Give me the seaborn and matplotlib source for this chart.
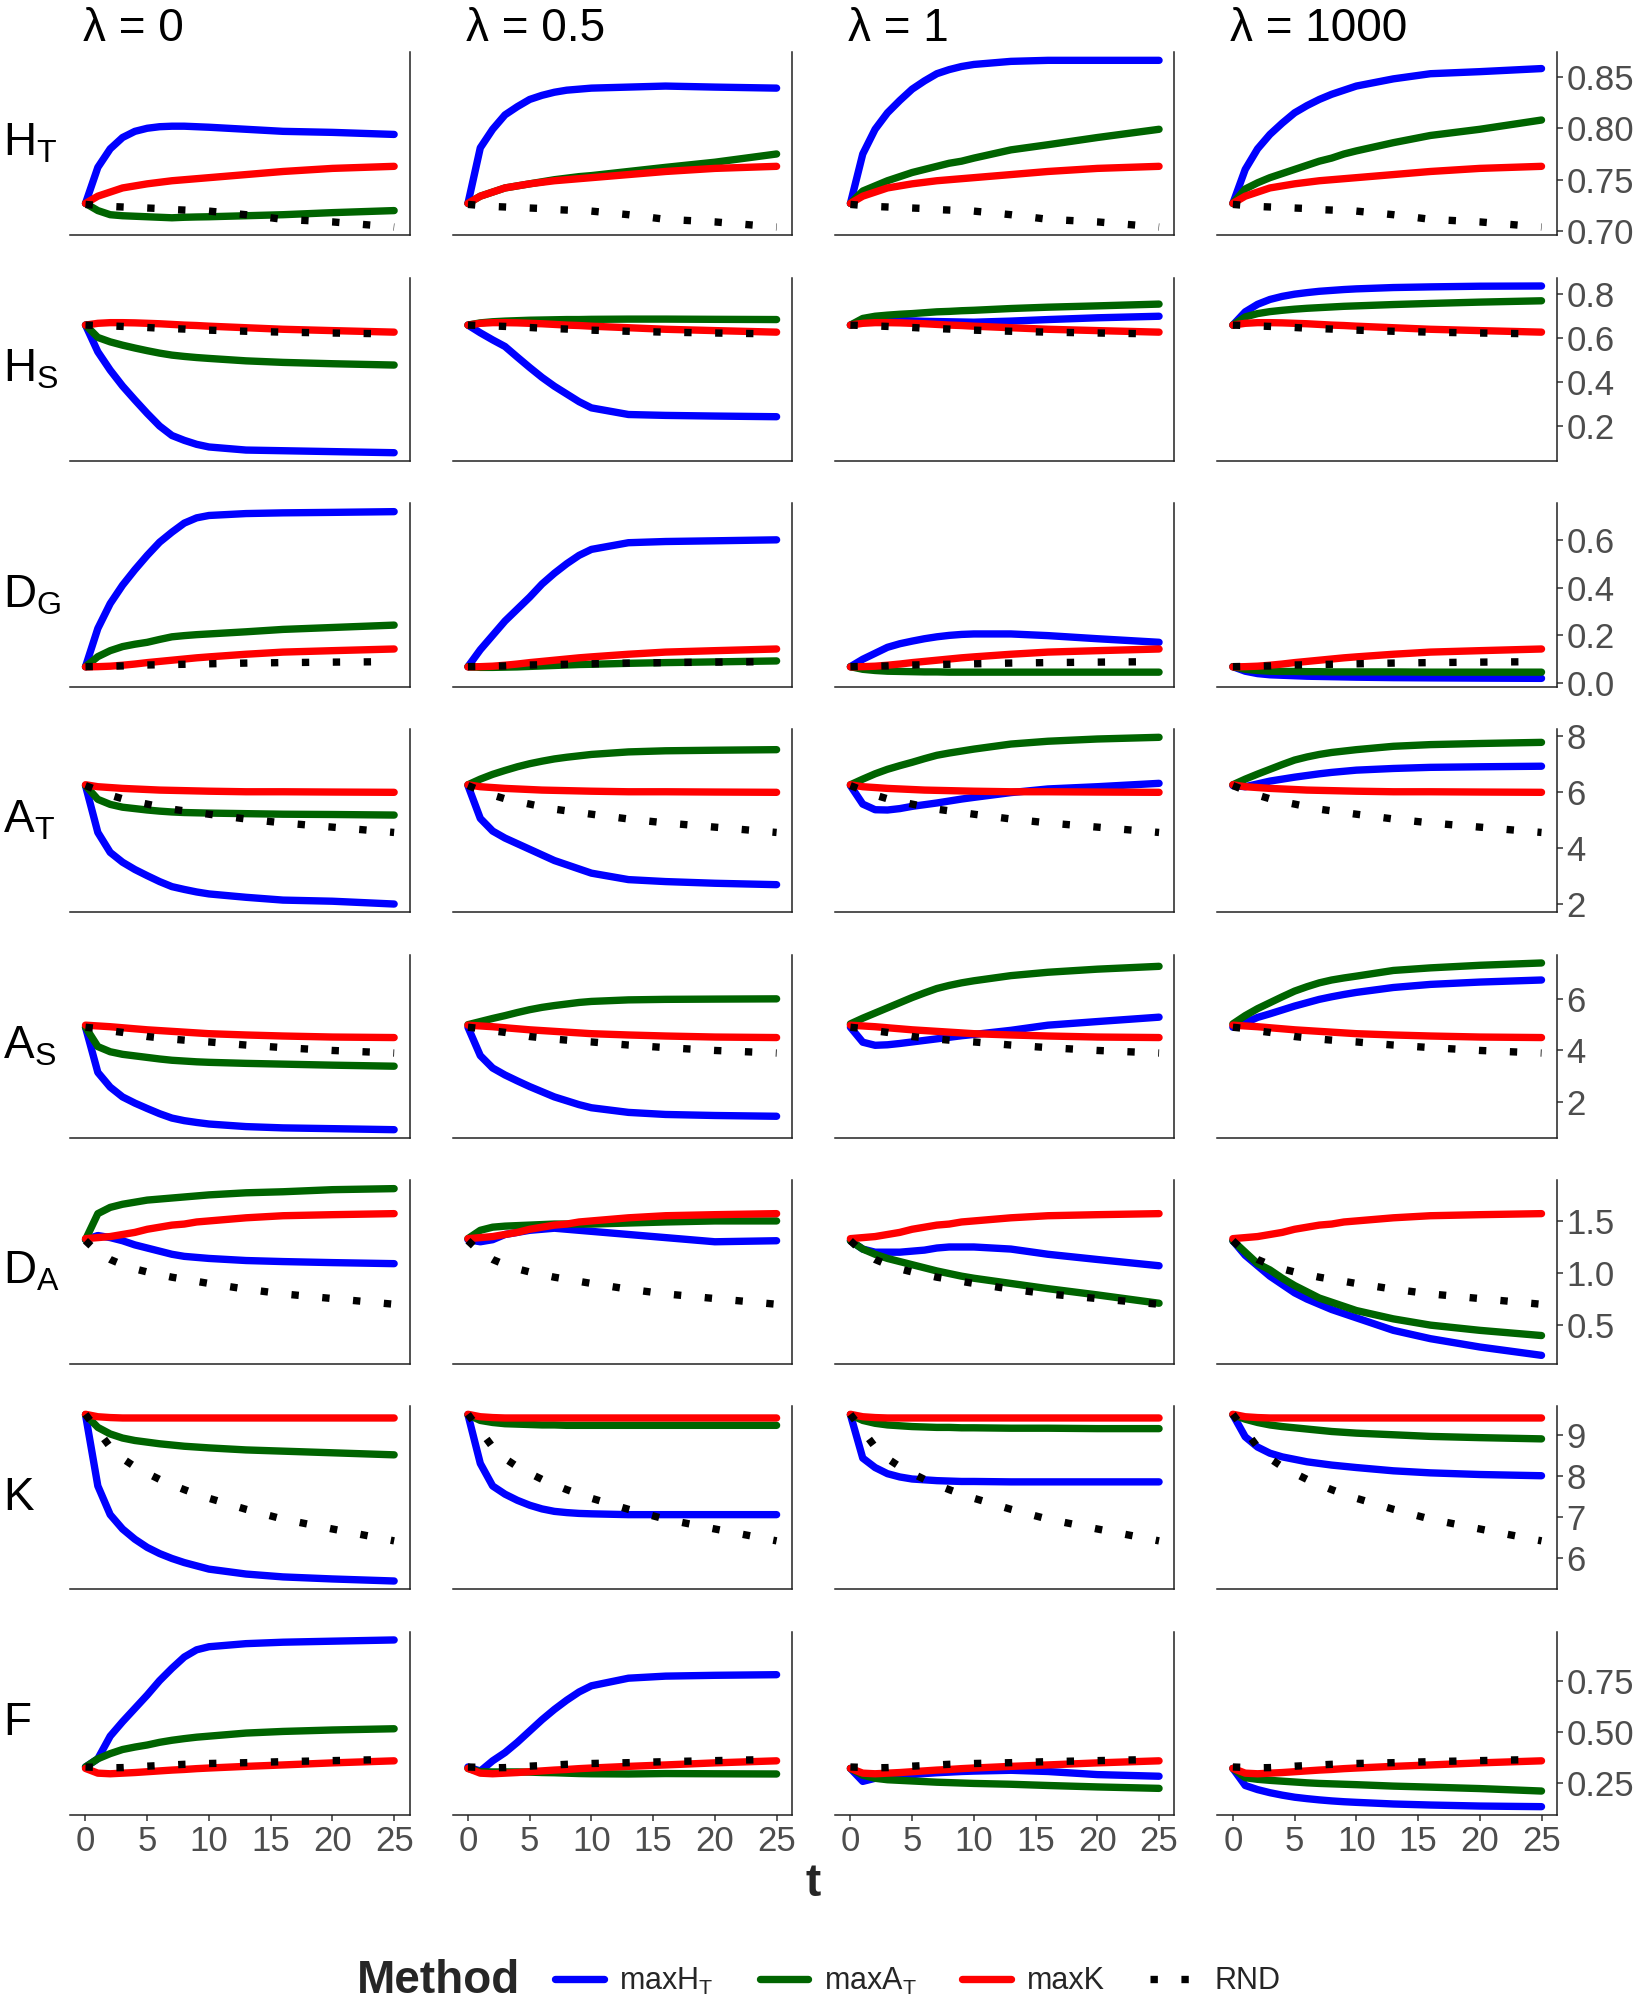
import numpy as np
import pandas as pd
import matplotlib
matplotlib.use("Agg")
import matplotlib.pyplot as plt
import seaborn as sns
from matplotlib.lines import Line2D
from matplotlib import font_manager

# ---------------- data ----------------
T = [0, 1, 2, 3, 4, 5, 6, 7, 8, 9, 10, 13, 16, 20, 25]
LAMBDAS = ["0", "0.5", "1", "1000"]
METHODS = ["maxHT", "maxAT", "maxK", "RND"]
METRICS = ["HT", "HS", "DG", "AT", "AS", "DA", "K", "F"]
ROW_LABELS = ["H$_{\\mathrm{T}}$", "H$_{\\mathrm{S}}$", "D$_{\\mathrm{G}}$", "A$_{\\mathrm{T}}$",
              "A$_{\\mathrm{S}}$", "D$_{\\mathrm{A}}$", "K", "F"]
COL_TITLES = ["λ = 0", "λ = 0.5", "λ = 1", "λ = 1000"]
LEGEND_LABELS = ["maxH$_{\\mathrm{T}}$", "maxA$_{\\mathrm{T}}$", "maxK", "RND"]
X_TICKS = [0, 5, 10, 15, 20, 25]
Y_TICKS = [[0.70, 0.75, 0.80, 0.85], [0.2, 0.4, 0.6, 0.8], [0.0, 0.2, 0.4, 0.6], [2, 4, 6, 8],
           [2, 4, 6], [0.5, 1.0, 1.5], [6, 7, 8, 9], [0.25, 0.50, 0.75]]
Y_TICKLABELS = [["0.70", "0.75", "0.80", "0.85"], ["0.2", "0.4", "0.6", "0.8"],
                ["0.0", "0.2", "0.4", "0.6"], ["2", "4", "6", "8"], ["2", "4", "6"],
                ["0.5", "1.0", "1.5"], ["6", "7", "8", "9"], ["0.25", "0.50", "0.75"]]

# H_T
HT_maxHT = [[0.727, 0.762, 0.780, 0.791, 0.797, 0.800, 0.8015, 0.802, 0.802, 0.8015, 0.801, 0.799, 0.797, 0.796, 0.794],
            [0.727, 0.781, 0.799, 0.813, 0.821, 0.828, 0.832, 0.835, 0.837, 0.838, 0.839, 0.840, 0.841, 0.840, 0.839],
            [0.727, 0.775, 0.799, 0.815, 0.827, 0.838, 0.846, 0.853, 0.857, 0.860, 0.862, 0.865, 0.866, 0.866, 0.866],
            [0.727, 0.760, 0.780, 0.794, 0.805, 0.815, 0.822, 0.828, 0.833, 0.837, 0.841, 0.848, 0.853, 0.855, 0.858]]
HT_maxAT = [[0.727, 0.720, 0.716, 0.715, 0.7145, 0.714, 0.7135, 0.713, 0.7135, 0.7138, 0.714, 0.715, 0.716, 0.718, 0.720],
            [0.727, 0.734, 0.738, 0.742, 0.744, 0.746, 0.748, 0.750, 0.7515, 0.753, 0.754, 0.758, 0.762, 0.767, 0.775],
            [0.727, 0.739, 0.744, 0.749, 0.753, 0.757, 0.760, 0.763, 0.766, 0.768, 0.771, 0.779, 0.784, 0.791, 0.799],
            [0.727, 0.741, 0.747, 0.752, 0.756, 0.760, 0.764, 0.768, 0.771, 0.775, 0.778, 0.786, 0.793, 0.799, 0.808]]
HT_maxK = [0.727, 0.734, 0.738, 0.742, 0.744, 0.746, 0.7475, 0.749, 0.750, 0.751, 0.752, 0.755, 0.758, 0.761, 0.763]
HT_RND = [0.726, 0.725, 0.724, 0.7235, 0.723, 0.7225, 0.722, 0.721, 0.7205, 0.720, 0.7195, 0.716, 0.7115, 0.709, 0.704]

# H_S
HS_maxHT = [[0.657, 0.536, 0.453, 0.381, 0.318, 0.257, 0.200, 0.157, 0.135, 0.117, 0.105, 0.091, 0.088, 0.084, 0.079],
            [0.657, 0.622, 0.590, 0.560, 0.512, 0.465, 0.420, 0.380, 0.345, 0.310, 0.282, 0.252, 0.248, 0.245, 0.242],
            [0.657, 0.676, 0.679, 0.679, 0.678, 0.676, 0.674, 0.673, 0.672, 0.671, 0.670, 0.675, 0.682, 0.690, 0.697],
            [0.657, 0.717, 0.751, 0.773, 0.787, 0.797, 0.804, 0.810, 0.814, 0.818, 0.821, 0.827, 0.830, 0.833, 0.834]]
HS_maxAT = [[0.657, 0.601, 0.581, 0.566, 0.553, 0.541, 0.530, 0.521, 0.515, 0.510, 0.506, 0.495, 0.488, 0.482, 0.476],
            [0.657, 0.667, 0.672, 0.675, 0.677, 0.679, 0.680, 0.681, 0.682, 0.682, 0.683, 0.684, 0.684, 0.683, 0.682],
            [0.657, 0.687, 0.697, 0.702, 0.706, 0.709, 0.713, 0.717, 0.719, 0.722, 0.724, 0.732, 0.738, 0.744, 0.752],
            [0.657, 0.694, 0.709, 0.718, 0.724, 0.729, 0.733, 0.736, 0.739, 0.742, 0.744, 0.750, 0.755, 0.761, 0.767]]
HS_maxK = [0.657, 0.665, 0.668, 0.668, 0.667, 0.665, 0.663, 0.660, 0.657, 0.655, 0.652, 0.645, 0.638, 0.632, 0.625]
HS_RND = [0.657, 0.655, 0.653, 0.651, 0.648, 0.646, 0.643, 0.641, 0.639, 0.636, 0.634, 0.629, 0.625, 0.621, 0.617]

# D_G
DG_maxHT = [[0.069, 0.229, 0.333, 0.410, 0.475, 0.535, 0.590, 0.632, 0.670, 0.692, 0.702, 0.710, 0.713, 0.715, 0.718],
            [0.069, 0.140, 0.200, 0.260, 0.310, 0.360, 0.415, 0.460, 0.500, 0.535, 0.560, 0.588, 0.593, 0.596, 0.600],
            [0.069, 0.100, 0.125, 0.150, 0.165, 0.176, 0.186, 0.194, 0.200, 0.204, 0.206, 0.206, 0.199, 0.186, 0.171],
            [0.069, 0.050, 0.040, 0.035, 0.033, 0.031, 0.029, 0.028, 0.027, 0.026, 0.025, 0.023, 0.022, 0.021, 0.020]]
DG_maxAT = [[0.069, 0.111, 0.136, 0.153, 0.163, 0.171, 0.183, 0.194, 0.199, 0.203, 0.206, 0.215, 0.225, 0.233, 0.243],
            [0.069, 0.066, 0.066, 0.067, 0.068, 0.070, 0.072, 0.074, 0.076, 0.078, 0.079, 0.083, 0.086, 0.089, 0.093],
            [0.069, 0.058, 0.053, 0.050, 0.049, 0.048, 0.047, 0.047, 0.046, 0.046, 0.046, 0.046, 0.046, 0.046, 0.046],
            [0.069, 0.058, 0.053, 0.050, 0.049, 0.049, 0.048, 0.048, 0.047, 0.047, 0.047, 0.047, 0.046, 0.046, 0.046]]
DG_maxK = [0.068, 0.069, 0.071, 0.075, 0.080, 0.086, 0.091, 0.096, 0.101, 0.106, 0.110, 0.121, 0.130, 0.136, 0.143]
DG_RND = [0.069, 0.070, 0.071, 0.072, 0.074, 0.076, 0.077, 0.078, 0.079, 0.080, 0.081, 0.084, 0.086, 0.088, 0.090]

# A_T
AT_maxHT = [[6.22, 4.55, 3.84, 3.49, 3.23, 3.01, 2.80, 2.62, 2.52, 2.43, 2.36, 2.24, 2.14, 2.10, 2.00],
            [6.22, 5.05, 4.60, 4.35, 4.15, 3.95, 3.75, 3.55, 3.40, 3.25, 3.10, 2.87, 2.80, 2.74, 2.69],
            [6.22, 5.56, 5.36, 5.35, 5.40, 5.48, 5.54, 5.60, 5.67, 5.74, 5.80, 5.97, 6.10, 6.18, 6.30],
            [6.22, 6.18, 6.28, 6.38, 6.45, 6.52, 6.58, 6.64, 6.69, 6.73, 6.77, 6.83, 6.87, 6.89, 6.91]]
AT_maxAT = [[6.22, 5.73, 5.55, 5.45, 5.40, 5.35, 5.31, 5.28, 5.26, 5.25, 5.24, 5.22, 5.20, 5.19, 5.17],
            [6.25, 6.45, 6.62, 6.76, 6.89, 7.00, 7.09, 7.17, 7.23, 7.28, 7.33, 7.42, 7.46, 7.48, 7.50],
            [6.25, 6.45, 6.64, 6.80, 6.93, 7.05, 7.18, 7.30, 7.38, 7.45, 7.52, 7.70, 7.80, 7.88, 7.94],
            [6.25, 6.45, 6.63, 6.80, 6.97, 7.13, 7.24, 7.33, 7.40, 7.45, 7.50, 7.62, 7.68, 7.72, 7.76]]
AT_maxK = [6.25, 6.18, 6.15, 6.12, 6.10, 6.08, 6.06, 6.05, 6.04, 6.03, 6.02, 6.00, 6.00, 5.99, 5.98]
AT_RND = [6.22, 6.05, 5.88, 5.75, 5.65, 5.56, 5.47, 5.38, 5.32, 5.26, 5.20, 5.03, 4.89, 4.74, 4.55]

# A_S
AS_maxHT = [[4.90, 3.15, 2.58, 2.20, 1.96, 1.75, 1.55, 1.38, 1.28, 1.21, 1.15, 1.05, 1.00, 0.97, 0.93],
            [4.90, 3.80, 3.32, 3.05, 2.82, 2.60, 2.40, 2.20, 2.05, 1.90, 1.78, 1.60, 1.52, 1.48, 1.45],
            [4.90, 4.32, 4.20, 4.22, 4.27, 4.33, 4.39, 4.45, 4.51, 4.57, 4.62, 4.78, 4.98, 5.12, 5.29],
            [4.90, 5.07, 5.28, 5.42, 5.57, 5.72, 5.85, 5.98, 6.08, 6.17, 6.25, 6.44, 6.56, 6.65, 6.73]]
AS_maxAT = [[4.90, 4.15, 3.95, 3.85, 3.79, 3.73, 3.67, 3.62, 3.59, 3.56, 3.54, 3.50, 3.47, 3.43, 3.39],
            [5.00, 5.12, 5.24, 5.35, 5.47, 5.58, 5.67, 5.74, 5.80, 5.86, 5.90, 5.96, 5.98, 5.99, 6.00],
            [5.03, 5.25, 5.45, 5.65, 5.85, 6.05, 6.23, 6.40, 6.52, 6.62, 6.70, 6.90, 7.03, 7.15, 7.26],
            [5.03, 5.35, 5.62, 5.85, 6.08, 6.30, 6.47, 6.62, 6.73, 6.81, 6.88, 7.10, 7.20, 7.30, 7.39]]
AS_maxK = [4.98, 4.95, 4.92, 4.88, 4.84, 4.80, 4.77, 4.74, 4.71, 4.68, 4.65, 4.60, 4.56, 4.52, 4.50]
AS_RND = [4.90, 4.85, 4.76, 4.70, 4.62, 4.54, 4.49, 4.44, 4.40, 4.36, 4.33, 4.21, 4.11, 4.00, 3.90]

# D_A
DA_maxHT = [[1.32, 1.36, 1.34, 1.31, 1.27, 1.24, 1.21, 1.18, 1.16, 1.15, 1.14, 1.12, 1.11, 1.10, 1.09],
            [1.32, 1.30, 1.32, 1.37, 1.39, 1.41, 1.42, 1.43, 1.42, 1.41, 1.40, 1.37, 1.34, 1.30, 1.31],
            [1.31, 1.23, 1.20, 1.20, 1.20, 1.21, 1.22, 1.24, 1.25, 1.25, 1.25, 1.23, 1.18, 1.13, 1.07],
            [1.31, 1.17, 1.07, 0.97, 0.89, 0.81, 0.75, 0.70, 0.65, 0.61, 0.57, 0.45, 0.37, 0.29, 0.21]]
DA_maxAT = [[1.32, 1.57, 1.63, 1.66, 1.68, 1.70, 1.71, 1.72, 1.73, 1.74, 1.75, 1.77, 1.78, 1.80, 1.81],
            [1.33, 1.41, 1.44, 1.45, 1.455, 1.46, 1.465, 1.47, 1.47, 1.47, 1.47, 1.48, 1.49, 1.50, 1.50],
            [1.31, 1.23, 1.18, 1.14, 1.11, 1.08, 1.05, 1.02, 0.995, 0.97, 0.95, 0.90, 0.85, 0.79, 0.71],
            [1.31, 1.20, 1.09, 1.03, 0.95, 0.88, 0.82, 0.76, 0.72, 0.68, 0.64, 0.56, 0.50, 0.45, 0.40]]
DA_maxK = [1.33, 1.34, 1.35, 1.37, 1.39, 1.42, 1.44, 1.46, 1.47, 1.49, 1.50, 1.53, 1.55, 1.56, 1.57]
DA_RND = [1.31, 1.20, 1.13, 1.08, 1.04, 1.01, 0.985, 0.96, 0.94, 0.92, 0.90, 0.845, 0.80, 0.755, 0.70]

# K
K_maxHT = [[9.49, 7.75, 7.05, 6.70, 6.45, 6.25, 6.10, 5.98, 5.88, 5.80, 5.72, 5.60, 5.53, 5.48, 5.43],
           [9.49, 8.30, 7.75, 7.55, 7.40, 7.28, 7.19, 7.13, 7.10, 7.08, 7.07, 7.05, 7.05, 7.05, 7.05],
           [9.49, 8.43, 8.20, 8.05, 7.97, 7.92, 7.90, 7.88, 7.87, 7.86, 7.86, 7.85, 7.85, 7.85, 7.85],
           [9.49, 8.95, 8.70, 8.55, 8.46, 8.40, 8.34, 8.30, 8.26, 8.23, 8.20, 8.12, 8.07, 8.03, 8.00]]
K_maxAT = [[9.49, 9.18, 9.02, 8.92, 8.86, 8.82, 8.78, 8.75, 8.72, 8.70, 8.68, 8.63, 8.60, 8.56, 8.51],
           [9.49, 9.35, 9.30, 9.27, 9.26, 9.25, 9.24, 9.24, 9.23, 9.23, 9.23, 9.23, 9.23, 9.23, 9.23],
           [9.49, 9.35, 9.28, 9.24, 9.22, 9.20, 9.19, 9.18, 9.18, 9.17, 9.17, 9.16, 9.16, 9.15, 9.15],
           [9.49, 9.38, 9.30, 9.24, 9.20, 9.17, 9.14, 9.11, 9.08, 9.06, 9.04, 9.00, 8.96, 8.93, 8.90]]
K_maxK = [9.50, 9.44, 9.42, 9.41, 9.41, 9.41, 9.41, 9.41, 9.41, 9.41, 9.41, 9.41, 9.41, 9.41, 9.41]
K_RND = [9.50, 9.10, 8.70, 8.42, 8.22, 8.06, 7.91, 7.78, 7.66, 7.55, 7.45, 7.18, 6.94, 6.70, 6.41]

# F
F_maxHT = [[0.330, 0.370, 0.480, 0.550, 0.615, 0.680, 0.750, 0.810, 0.865, 0.900, 0.915, 0.930, 0.937, 0.942, 0.948],
           [0.330, 0.310, 0.360, 0.400, 0.450, 0.505, 0.560, 0.610, 0.655, 0.695, 0.725, 0.762, 0.772, 0.776, 0.779],
           [0.323, 0.260, 0.275, 0.282, 0.288, 0.293, 0.298, 0.302, 0.305, 0.308, 0.310, 0.314, 0.308, 0.293, 0.285],
           [0.323, 0.240, 0.220, 0.205, 0.193, 0.183, 0.176, 0.170, 0.165, 0.161, 0.158, 0.150, 0.145, 0.140, 0.137]]
F_maxAT = [[0.330, 0.370, 0.395, 0.415, 0.427, 0.437, 0.450, 0.460, 0.468, 0.475, 0.480, 0.495, 0.503, 0.510, 0.516],
           [0.323, 0.307, 0.306, 0.306, 0.306, 0.305, 0.303, 0.302, 0.300, 0.298, 0.297, 0.296, 0.298, 0.297, 0.296],
           [0.323, 0.290, 0.275, 0.268, 0.265, 0.262, 0.259, 0.256, 0.254, 0.252, 0.250, 0.246, 0.240, 0.233, 0.226],
           [0.323, 0.278, 0.270, 0.265, 0.261, 0.257, 0.253, 0.250, 0.248, 0.246, 0.244, 0.237, 0.232, 0.225, 0.213]]
F_maxK = [0.323, 0.300, 0.297, 0.300, 0.303, 0.307, 0.311, 0.315, 0.318, 0.322, 0.325, 0.333, 0.340, 0.350, 0.360]
F_RND = [0.330, 0.328, 0.326, 0.327, 0.330, 0.334, 0.337, 0.340, 0.343, 0.345, 0.347, 0.351, 0.356, 0.361, 0.367]

SERIES = {
    "HT": (HT_maxHT, HT_maxAT, HT_maxK, HT_RND),
    "HS": (HS_maxHT, HS_maxAT, HS_maxK, HS_RND),
    "DG": (DG_maxHT, DG_maxAT, DG_maxK, DG_RND),
    "AT": (AT_maxHT, AT_maxAT, AT_maxK, AT_RND),
    "AS": (AS_maxHT, AS_maxAT, AS_maxK, AS_RND),
    "DA": (DA_maxHT, DA_maxAT, DA_maxK, DA_RND),
    "K": (K_maxHT, K_maxAT, K_maxK, K_RND),
    "F": (F_maxHT, F_maxAT, F_maxK, F_RND),
}

rows = []
for m in METRICS:
    bH, bA, bK, bR = SERIES[m]
    for j, lam in enumerate(LAMBDAS):
        for meth, vals in zip(METHODS, [bH[j], bA[j], bK, bR]):
            for t, v in zip(T, vals):
                rows.append((m, lam, meth, t, v))
df = pd.DataFrame(rows, columns=["metric", "lam", "Method", "t", "value"])

# ---------------- style ----------------
sns.set_theme(style="white")
names = {f.name for f in font_manager.fontManager.ttflist}
base = "Liberation Sans Narrow" if "Liberation Sans Narrow" in names else "Liberation Sans"
plt.rcParams["font.family"] = [base, "DejaVu Sans"]
plt.rcParams["mathtext.fontset"] = "custom"
plt.rcParams["mathtext.rm"] = base
plt.rcParams["mathtext.it"] = base + ":italic"
plt.rcParams["mathtext.bf"] = base + ":bold"

palette = {"maxHT": "#0000FF", "maxAT": "#006400", "maxK": "#FF0000", "RND": "#000000"}
LW = 5.3
dashes = {"maxHT": "", "maxAT": "", "maxK": "", "RND": (1, 3.2)}

fig, axes = plt.subplots(8, 4, figsize=(16.37, 20), dpi=100, sharex=True, sharey="row")
fig.subplots_adjust(left=0.0428, right=0.9511, top=0.974, bottom=0.0925,
                    wspace=0.1265, hspace=0.2305)

for i, m in enumerate(METRICS):
    for j, lam in enumerate(LAMBDAS):
        ax = axes[i, j]
        sub = df[(df.metric == m) & (df.lam == lam)]
        sns.lineplot(data=sub, x="t", y="value", hue="Method", style="Method",
                     hue_order=METHODS, style_order=METHODS, palette=palette,
                     dashes=dashes, linewidth=LW, legend=False, estimator=None, ax=ax)
        for ln in ax.get_lines():
            ln.set_solid_joinstyle("round")
        ax.set_xlabel("")
        ax.set_ylabel("")
        for s in ["top", "left"]:
            ax.spines[s].set_visible(False)
        for s in ["bottom", "right"]:
            ax.spines[s].set_visible(True)
            ax.spines[s].set_color("#222222")
            ax.spines[s].set_linewidth(1.1)
        ax.tick_params(axis="both", which="both", left=False, right=False, top=False,
                       bottom=False, labelleft=False, labelright=False, labelbottom=False)
        ax.grid(False)
    axr = axes[i, 3]
    axr.set_yticks(Y_TICKS[i])
    axr.set_yticklabels(Y_TICKLABELS[i])
    axr.yaxis.set_ticks_position("right")
    axr.tick_params(axis="y", right=True, labelright=True, left=False, labelleft=False,
                    length=4.5, width=1.1, color="#333333", labelcolor="#4D4D4D",
                    labelsize=25, pad=2.5)

for j in range(4):
    ax = axes[7, j]
    ax.set_xticks(X_TICKS)
    ax.tick_params(axis="x", bottom=True, labelbottom=True, length=4.5, width=1.1,
                   color="#333333", labelcolor="#4D4D4D", labelsize=25, pad=3)

# column titles
for j, title in enumerate(COL_TITLES):
    axes[0, j].text(13 / 340, 1 + 11 / 183.5, title, transform=axes[0, j].transAxes,
                    fontsize=33, ha="left", va="baseline", color="black")

# row labels
for i, lab in enumerate(ROW_LABELS):
    pos = axes[i, 0].get_position()
    fig.text(0.002, (pos.y0 + pos.y1) / 2, lab, fontsize=33, ha="left", va="center",
             color="black")

# x label
fig.text(0.4966, 1 - 1884 / 2000, "t", fontsize=33, fontweight="bold", ha="center",
         va="center")

# legend
fig.text(357 / 1637, 0.0095, "Method", fontsize=33, fontweight="bold", ha="left",
         va="center")
handles = [Line2D([], [], color=palette[m], linewidth=LW,
                  linestyle=(0, (1, 3.2)) if m == "RND" else "-") for m in METHODS]
fig.legend(handles, LEGEND_LABELS, loc="center left", bbox_to_anchor=(555 / 1637, 0.0095),
           ncol=4, frameon=False, fontsize=22, handlelength=1.6, handletextpad=0.5,
           columnspacing=1.5, borderpad=0, borderaxespad=0)

fig.savefig("out.png", dpi=100)
